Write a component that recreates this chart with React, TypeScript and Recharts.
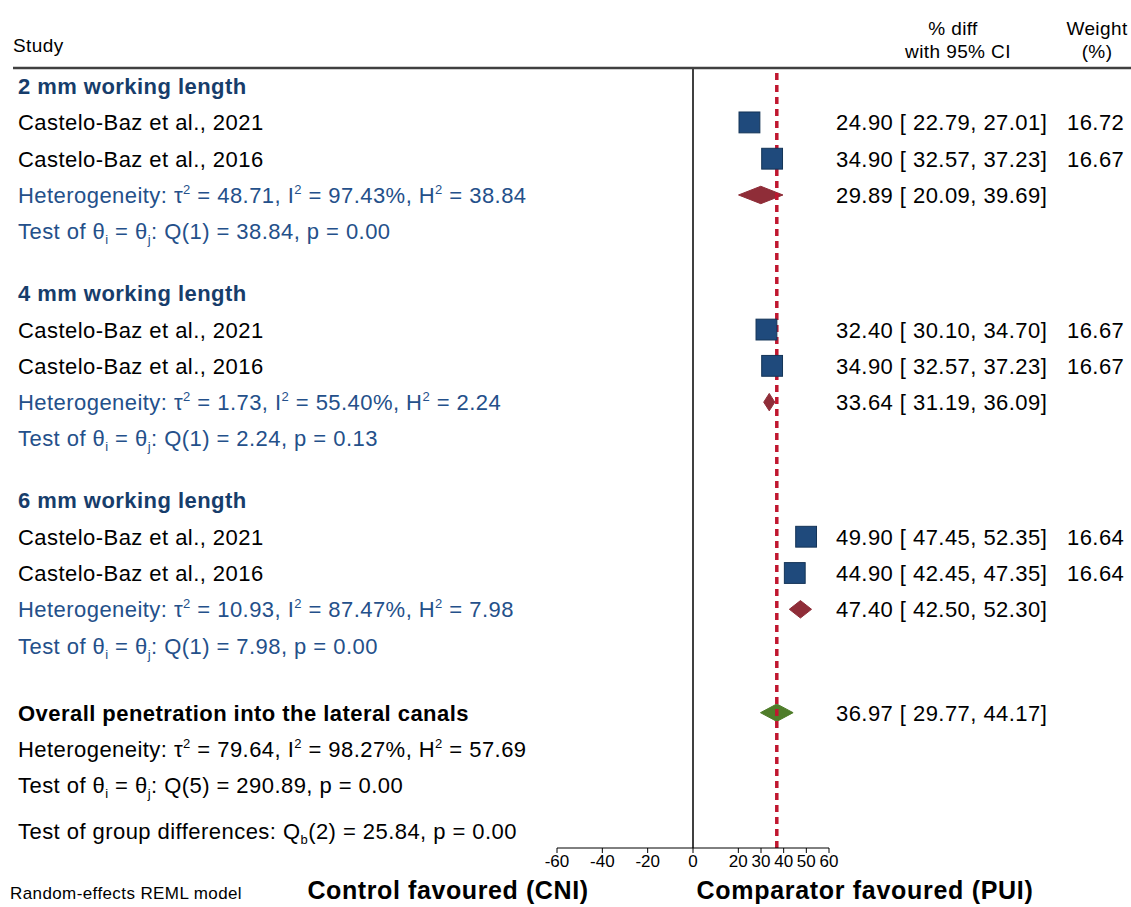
import React from "react";
import { ComposedChart, Scatter, XAxis, YAxis, ReferenceLine, ReferenceArea } from "recharts";

// subgroup + study values
const groupNames = ["2 mm working length", "4 mm working length", "6 mm working length"];
const studyNames = ["Castelo-Baz et al., 2021", "Castelo-Baz et al., 2016"];
const studyEst = [[24.9, 34.9], [32.4, 34.9], [49.9, 44.9]];
const studyLo = [[22.79, 32.57], [30.1, 32.57], [47.45, 42.45]];
const studyHi = [[27.01, 37.23], [34.7, 37.23], [52.35, 47.35]];
const studyWeight = [[16.72, 16.67], [16.67, 16.67], [16.64, 16.64]];

const groupEst = [29.89, 33.64, 47.4];
const groupLo = [20.09, 31.19, 42.5];
const groupHi = [39.69, 36.09, 52.3];
const groupTau2 = [48.71, 1.73, 10.93];
const groupI2 = [97.43, 55.4, 87.47];
const groupH2 = [38.84, 2.24, 7.98];
const groupQ = [38.84, 2.24, 7.98];
const groupQdf = [1, 1, 1];
const groupP = [0.0, 0.13, 0.0];

const overallLabel = "Overall penetration into the lateral canals";
const overallEst = 36.97;
const overallLo = 29.77;
const overallHi = 44.17;
const overallTau2 = 79.64;
const overallI2 = 98.27;
const overallH2 = 57.69;
const overallQ = 290.89;
const overallQdf = 5;
const overallP = 0.0;
const groupDiffQb = 25.84;
const groupDiffDf = 2;
const groupDiffP = 0.0;

const xTicks = [-60, -40, -20, 0, 20, 30, 40, 50, 60];

const BLUE_HEAD = "#173d6b";
const BLUE_TEXT = "#24508a";
const SQUARE = "#1f4a7c";
const RED = "#8f2d38";
const GREEN = "#4f7d2a";
const FONT = "'Liberation Sans', Arial, sans-serif";

type Seg = { t: string; sup?: boolean; sub?: boolean };
type Row = {
  pos: number;
  left: Seg[];
  leftColor: string;
  bold?: boolean;
  right?: string;
  weight?: string;
};

const f2 = (v: number) => v.toFixed(2);
const ciText = (e: number, l: number, h: number) => `${f2(e)} [ ${f2(l)}, ${f2(h)}]`;

const hetSegs = (tau2: number, i2: number, h2: number): Seg[] => [
  { t: "Heterogeneity: τ" }, { t: "2", sup: true },
  { t: ` = ${f2(tau2)}, I` }, { t: "2", sup: true },
  { t: ` = ${f2(i2)}%, H` }, { t: "2", sup: true },
  { t: ` = ${f2(h2)}` },
];
const testSegs = (df: number, q: number, p: number): Seg[] => [
  { t: "Test of θ" }, { t: "i", sub: true }, { t: " = θ" }, { t: "j", sub: true },
  { t: `: Q(${df}) = ${f2(q)}, p = ${f2(p)}` },
];

// build row layout
const rows: Row[] = [];
const studyPoints: { x: number; y: number; w: number }[] = [];
const diamonds: { lo: number; hi: number; y: number; color: string }[] = [];
let pos = 0;
groupNames.forEach((g, gi) => {
  if (gi > 0) pos += 1.71;
  rows.push({ pos, left: [{ t: g }], leftColor: BLUE_HEAD, bold: true });
  studyNames.forEach((s, si) => {
    pos += 1;
    rows.push({
      pos,
      left: [{ t: s }],
      leftColor: "#000",
      right: ciText(studyEst[gi][si], studyLo[gi][si], studyHi[gi][si]),
      weight: f2(studyWeight[gi][si]),
    });
    studyPoints.push({ x: studyEst[gi][si], y: pos, w: studyWeight[gi][si] });
  });
  pos += 1;
  rows.push({
    pos,
    left: hetSegs(groupTau2[gi], groupI2[gi], groupH2[gi]),
    leftColor: BLUE_TEXT,
    right: ciText(groupEst[gi], groupLo[gi], groupHi[gi]),
  });
  diamonds.push({ lo: groupLo[gi], hi: groupHi[gi], y: pos, color: RED });
  pos += 1;
  rows.push({ pos, left: testSegs(groupQdf[gi], groupQ[gi], groupP[gi]), leftColor: BLUE_TEXT });
});
pos += 1.85;
rows.push({ pos, left: [{ t: overallLabel }], leftColor: "#000", bold: true, right: ciText(overallEst, overallLo, overallHi) });
diamonds.push({ lo: overallLo, hi: overallHi, y: pos, color: GREEN });
pos += 1;
rows.push({ pos, left: hetSegs(overallTau2, overallI2, overallH2), leftColor: "#000" });
pos += 1;
rows.push({ pos, left: testSegs(overallQdf, overallQ, overallP), leftColor: "#000" });
pos += 1.27;
rows.push({
  pos,
  left: [{ t: "Test of group differences: Q" }, { t: "b", sub: true }, { t: `(${groupDiffDf}) = ${f2(groupDiffQb)}, p = ${f2(groupDiffP)}` }],
  leftColor: "#000",
});

const rowByKey = new Map(rows.map((r) => [r.pos.toFixed(3), r]));

function Segs({ segs }: { segs: Seg[] }) {
  const out: React.ReactNode[] = [];
  let shift = 0;
  segs.forEach((s, i) => {
    const target = s.sup ? -9 : s.sub ? 5 : 0;
    out.push(
      <tspan key={i} dy={target - shift} fontSize={s.sup || s.sub ? 13 : undefined}>
        {s.t}
      </tspan>
    );
    shift = target;
  });
  return <>{out}</>;
}

function RowTick(props: any) {
  const { y, payload } = props;
  const row = rowByKey.get(Number(payload.value).toFixed(3));
  if (!row) return null;
  const base = y + 8;
  return (
    <g fontFamily={FONT} fontSize={22} letterSpacing={0.45}>
      <text x={18} y={base} fill={row.leftColor} fontWeight={row.bold ? "bold" : "normal"}>
        <Segs segs={row.left} />
      </text>
      {row.right && (
        <text x={836} y={base} fill="#000">
          {row.right}
        </text>
      )}
      {row.weight && (
        <text x={1067} y={base} fill="#000">
          {row.weight}
        </text>
      )}
    </g>
  );
}

function XTick(props: any) {
  const { x, y, payload } = props;
  return (
    <text x={x} y={y + 12} textAnchor="middle" fontFamily={FONT} fontSize={17} fill="#000">
      {payload.value}
    </text>
  );
}

function StudySquare(props: any) {
  const { cx, cy, payload } = props;
  const side = Math.sqrt(payload.w) * 5.1;
  return (
    <rect x={cx - side / 2} y={cy - side / 2} width={side} height={side} fill={SQUARE} stroke="#143457" strokeWidth={1} />
  );
}

const diamondShape = (color: string) => (props: any) => {
  const { x, y, width, height } = props;
  const pts = [
    [x, y + height / 2],
    [x + width / 2, y],
    [x + width, y + height / 2],
    [x + width / 2, y + height],
  ]
    .map((p) => p.join(","))
    .join(" ");
  return <polygon points={pts} fill={color} stroke={color} strokeWidth={1} />;
};

export default function App() {
  return (
    <div style={{ position: "fixed", left: 0, top: 0, width: 1131, height: 907, background: "#fff" }}>
      <ComposedChart width={1131} height={907} margin={{ top: 68, right: 302, bottom: 29, left: 0 }}>
        <XAxis
          type="number"
          dataKey="x"
          domain={[-60, 60]}
          ticks={xTicks}
          interval={0}
          height={30}
          stroke="#000"
          tickSize={5}
          tickMargin={2}
          tick={(p: any) => <XTick {...p} />}
          allowDataOverflow
        />
        <YAxis
          yAxisId="L"
          type="number"
          dataKey="y"
          domain={[-0.5, 21.0]}
          reversed
          ticks={rows.map((r) => r.pos)}
          interval={0}
          width={557}
          axisLine={false}
          tickLine={false}
          tick={(p: any) => <RowTick {...p} />}
          allowDataOverflow
        />
        <ReferenceLine yAxisId="L" x={0} stroke="#000" strokeWidth={1.5} />
        <ReferenceLine yAxisId="L" x={overallEst} stroke="#c0162f" strokeWidth={3.5} strokeDasharray="7 5" />
        {diamonds.map((d, i) => (
          <ReferenceArea
            key={i}
            yAxisId="L"
            x1={d.lo}
            x2={d.hi}
            y1={d.y - 0.24}
            y2={d.y + 0.24}
            shape={diamondShape(d.color)}
          />
        ))}
        <Scatter yAxisId="L" data={studyPoints} shape={<StudySquare />} isAnimationActive={false} />
      </ComposedChart>
      <svg width={1131} height={907} style={{ position: "absolute", left: 0, top: 0, pointerEvents: "none" }} fontFamily={FONT}>
        <g fontSize={19} letterSpacing={0.4} fill="#000">
          <text x={13} y={52}>Study</text>
          <text x={953} y={35} textAnchor="middle">% diff</text>
          <text x={958} y={58} textAnchor="middle">with 95% CI</text>
          <text x={1097} y={35} textAnchor="middle">Weight</text>
          <text x={1097} y={58} textAnchor="middle">(%)</text>
        </g>
        <line x1={13} x2={1131} y1={68} y2={68} stroke="#404040" strokeWidth={2.5} />
        <text x={10} y={899} fontSize={17} letterSpacing={0.4} fill="#000">Random-effects REML model</text>
        <text x={448} y={899} fontSize={25} letterSpacing={0.6} fontWeight="bold" fill="#000" textAnchor="middle">Control favoured (CNI)</text>
        <text x={865} y={899} fontSize={25} letterSpacing={0.7} fontWeight="bold" fill="#000" textAnchor="middle">Comparator favoured (PUI)</text>
      </svg>
    </div>
  );
}
